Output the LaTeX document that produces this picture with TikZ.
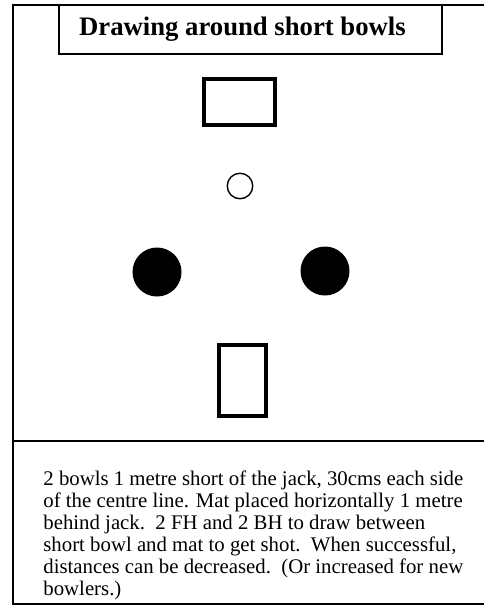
\documentclass[tikz,border=0pt]{standalone}
\usepackage{fontspec}
\setmainfont{Liberation Serif}
\usetikzlibrary{positioning}

\begin{document}
\begin{tikzpicture}[x=1pt, y=-1pt, thick,
  mat/.style={draw, line width=3.5pt, inner sep=0pt},
  bowl/.style={circle, fill=black, minimum size=49pt, inner sep=0pt},
  jack/.style={draw, circle, line width=1.4pt, minimum size=25.5pt, inner sep=0pt}]
\useasboundingbox (0,0) rectangle (483,607);
\fill[white] (0,0) rectangle (483,607);
% frame and divider
\draw[line width=1.3pt] (490,5) -- (13,5) -- (13,604) -- (490,604);
\draw[line width=1.3pt] (13,441) -- (490,441);
\node[draw, line width=1.1pt, minimum width=383pt, minimum height=49pt,
  font=\bfseries\fontsize{26.7}{30}\selectfont] (title) at (250.5,29.5) {Drawing around short bowls\hspace*{16pt}};
% mats, jack and bowls
\node[mat, minimum width=71pt, minimum height=46pt] (topmat) at (239.5,102) {};
\node[jack] (jack) at (240,186) {};
\node[bowl] (leftbowl) at (157,272) {};
\node[bowl] (rightbowl) at (325,271) {};
\node[mat, minimum width=47pt, minimum height=71pt] (botmat) at (242.5,380.5) {};
% notes
\node[anchor=north west, inner sep=0pt, align=left,
  font=\fontsize{20.8}{22}\selectfont] (notes) at (43,470)
  {2 bowls 1 metre short of the jack, 30cms each side\\
   of the centre line. Mat placed horizontally 1 metre\\
   behind jack.\ \ 2 FH and 2 BH to draw between\\
   short bowl and mat to get shot.\ \ When successful,\\
   distances can be decreased.\ \ (Or increased for new\\
   bowlers.)};
\end{tikzpicture}
\end{document}
